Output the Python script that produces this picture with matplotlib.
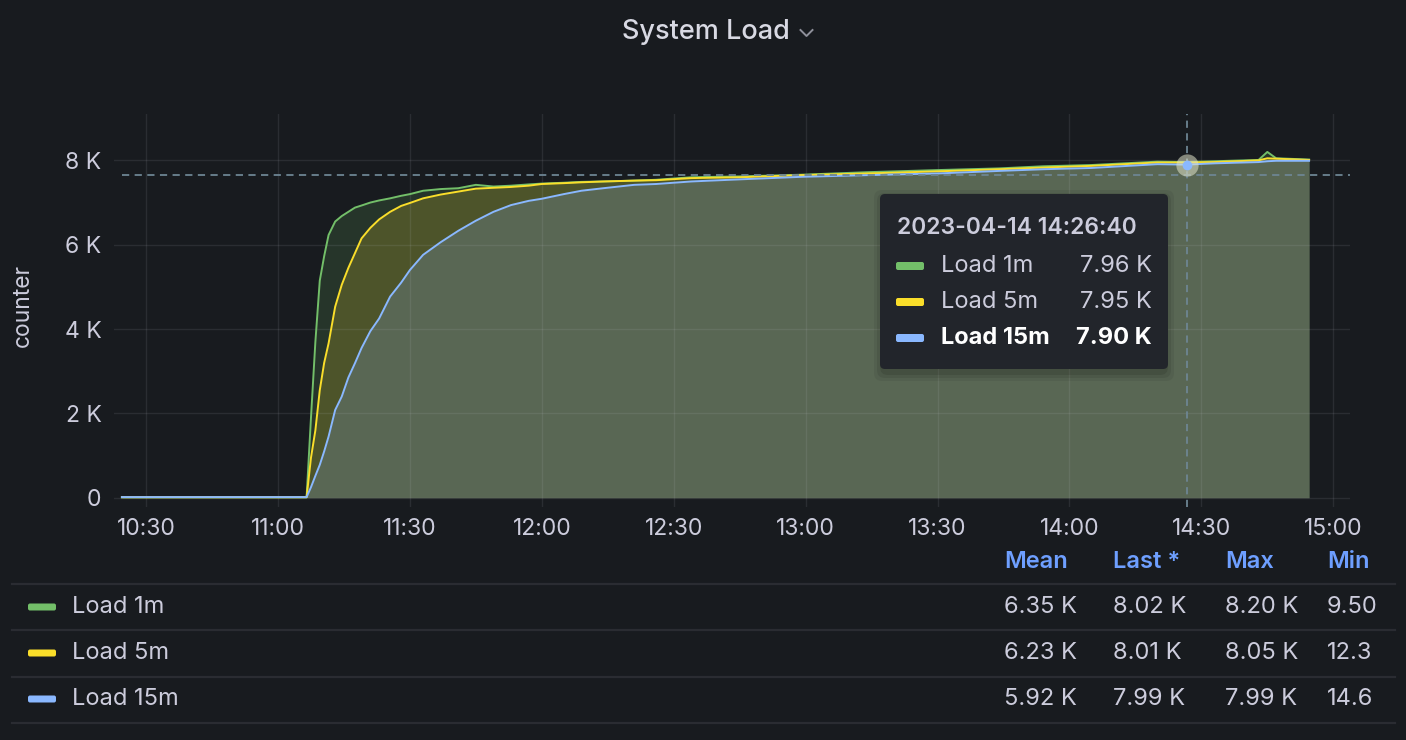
import pandas as pd
import matplotlib.pyplot as plt
import matplotlib.dates as mdates
from matplotlib.patches import FancyBboxPatch
from matplotlib.ticker import FuncFormatter

plt.rcParams["font.family"] = ["Inter", "DejaVu Sans"]

# sample times, minutes after 10:00 on 2023-04-14
minutes = [24.5, 66.5, 67.5, 68.5, 69.5, 70.5, 71.5, 73, 74.5, 76, 77.5, 79, 81, 83,
           85.5, 88, 90, 93, 97, 101, 105, 109, 113, 117, 120, 125, 129, 134, 141,
           146, 154, 165, 179, 194, 210, 224, 234, 245, 260, 266.67, 273, 283, 285,
           287, 294.5]

# values in K
load_1m = [0.0095, 0.0095, 1.9, 3.7, 5.15, 5.73, 6.23, 6.55, 6.68, 6.78, 6.88, 6.93,
           7.0, 7.05, 7.10, 7.16, 7.20, 7.28, 7.32, 7.34, 7.42, 7.38, 7.40, 7.43, 7.45,
           7.47, 7.49, 7.50, 7.52, 7.54, 7.60, 7.62, 7.66, 7.72, 7.77, 7.81, 7.86,
           7.89, 7.97, 7.96, 7.98, 8.01, 8.20, 8.05, 8.02]
load_5m = [0.0123, 0.0123, 0.95, 1.6, 2.55, 3.2, 3.66, 4.53, 5.05, 5.45, 5.80, 6.15,
           6.40, 6.60, 6.78, 6.92, 6.99, 7.10, 7.19, 7.26, 7.33, 7.35, 7.37, 7.40, 7.44,
           7.46, 7.48, 7.50, 7.52, 7.53, 7.58, 7.60, 7.65, 7.69, 7.74, 7.79, 7.83,
           7.87, 7.95, 7.95, 7.96, 8.00, 8.05, 8.04, 8.01]
load_15m = [0.0146, 0.0146, 0.25, 0.52, 0.78, 1.10, 1.45, 2.08, 2.40, 2.85, 3.19, 3.55,
            3.95, 4.25, 4.77, 5.10, 5.40, 5.76, 6.06, 6.33, 6.57, 6.78, 6.94, 7.04, 7.09,
            7.20, 7.28, 7.34, 7.42, 7.44, 7.50, 7.55, 7.61, 7.65, 7.69, 7.75, 7.79,
            7.82, 7.91, 7.90, 7.93, 7.96, 7.98, 7.99, 7.99]

series_names = ["Load 1m", "Load 5m", "Load 15m"]
series_colors = ["#73bf69", "#fade2a", "#8ab8ff"]
fill_alphas = [0.16, 0.19, 0.2]

stat_headers = ["Mean", "Last *", "Max", "Min"]
stat_rows = [
    ["6.35 K", "8.02 K", "8.20 K", "9.50"],
    ["6.23 K", "8.01 K", "8.05 K", "12.3"],
    ["5.92 K", "7.99 K", "7.99 K", "14.6"],
]

tooltip_time = "2023-04-14 14:26:40"
tooltip_values = ["7.96 K", "7.95 K", "7.90 K"]
cursor_value = 7650

BG = "#181b1f"
TEXT = "#ccccdc"

base = pd.Timestamp("2023-04-14 10:00:00")
times = base + pd.to_timedelta(minutes, unit="min")

fig = plt.figure(figsize=(14.06, 7.40), dpi=100, facecolor=BG)
W, H = 1406, 740
ax = fig.add_axes([114 / W, 1 - 507 / H, (1350 - 114) / W, (507 - 114) / H])
ax.set_facecolor(BG)

for vals, color, alpha in zip([load_1m, load_5m, load_15m], series_colors, fill_alphas):
    y = [v * 1000 for v in vals]
    ax.fill_between(times, 0, y, color=color, alpha=alpha, lw=0, zorder=1)
    ax.plot(times, y, color=color, lw=1.4, zorder=3)

ax.set_xlim(base + pd.Timedelta(minutes=22.7), base + pd.Timedelta(minutes=303.8))
ax.set_ylim(-220, 9100)
ax.set_yticks([0, 2000, 4000, 6000, 8000])
ax.yaxis.set_major_formatter(FuncFormatter(lambda v, p: "0" if v == 0 else f"{v / 1000:g} K"))
ax.xaxis.set_major_locator(mdates.MinuteLocator(byminute=[0, 30]))
ax.xaxis.set_major_formatter(mdates.DateFormatter("%H:%M"))
ax.tick_params(length=0, colors=TEXT, labelsize=16.5)
ax.tick_params(axis="x", pad=8)
ax.tick_params(axis="y", pad=9)
ax.grid(True, color="#ccccdc", alpha=0.1, lw=1)
for s in ax.spines.values():
    s.set_visible(False)

# hover crosshair
t_hover = pd.Timestamp(tooltip_time)
hover_val = load_15m[minutes.index(266.67)] * 1000
ax.axvline(t_hover, color="#6d8593", lw=1.3, ls=(0, (4, 3)), zorder=4)
x0 = mdates.date2num(times[0])
x1 = ax.get_xlim()[1]
ax.plot([x0, x1], [cursor_value, cursor_value], color="#6d8593",
        lw=1.3, ls=(0, (4, 3)), zorder=4)
ax.set_xlim(mdates.date2num(base + pd.Timedelta(minutes=22.7)), x1)
ax.plot([t_hover], [hover_val], "o", ms=16, color="#dfe3c8", alpha=0.55, mec="none", zorder=5)
ax.plot([t_hover], [hover_val], "o", ms=7, color=series_colors[2], mec="none", zorder=6)

fig.text(23 / W, 1 - 305 / H, "counter", rotation=90, ha="center", va="center",
         color=TEXT, fontsize=16.5)

# overlay in pixel coordinates
ov = fig.add_axes([0, 0, 1, 1])
ov.set_xlim(0, W)
ov.set_ylim(H, 0)
ov.axis("off")
ov.patch.set_alpha(0)

ov.text(706, 32, "System Load", ha="center", va="center", color="#d8d9e3",
        fontsize=19.5, fontweight="medium")
ov.plot([800.5, 806.5, 812.5], [30, 36, 30], color="#8e909a", lw=1.4)

# tooltip
for i, a in enumerate([0.06, 0.08, 0.1]):
    g = 8 - i * 3
    ov.add_patch(FancyBboxPatch((880 - g + 2, 194 - g + 4), 288 + 2 * g - 4, 175 + 2 * g,
                                boxstyle="round,pad=0,rounding_size=8", fc="black",
                                ec="none", alpha=a))
ov.add_patch(FancyBboxPatch((880, 194), 288, 175, boxstyle="round,pad=0,rounding_size=5",
                            fc="#22252b", ec="none"))
ov.text(897, 228, tooltip_time, ha="left", va="center", color=TEXT, fontsize=16.5,
        fontweight="semibold")
for i, (name, color, val) in enumerate(zip(series_names, series_colors, tooltip_values)):
    yy = 266 + i * 36
    ov.add_patch(FancyBboxPatch((896, yy - 4), 28, 8, boxstyle="round,pad=0,rounding_size=2",
                                fc=color, ec="none"))
    bold = i == 2
    tc = "white" if bold else TEXT
    fw = "bold" if bold else "normal"
    ov.text(941, yy, name, ha="left", va="center", color=tc, fontsize=17, fontweight=fw)
    ov.text(1152, yy, val, ha="right", va="center", color=tc, fontsize=17, fontweight=fw)

# legend table
col_x = [1004, 1113, 1225, 1327]
for x, h in zip(col_x, stat_headers):
    ov.text(x, 562, h, ha="left", va="center", color="#6e9fff", fontsize=17,
            fontweight="semibold")
for y in [584, 630, 677, 723]:
    ov.plot([12, 1395], [y, y], color="#2a2c32", lw=1.6)
for i, (name, color, row) in enumerate(zip(series_names, series_colors, stat_rows)):
    yy = 607 + i * 46
    ov.add_patch(FancyBboxPatch((28, yy - 3.5), 28, 7, boxstyle="round,pad=0,rounding_size=2",
                                fc=color, ec="none"))
    ov.text(72, yy, name, ha="left", va="center", color=TEXT, fontsize=17)
    for x, v in zip(col_x, row):
        ov.text(x, yy, v, ha="left", va="center", color=TEXT, fontsize=17)

fig.savefig("out.png", dpi=100, facecolor=BG)
